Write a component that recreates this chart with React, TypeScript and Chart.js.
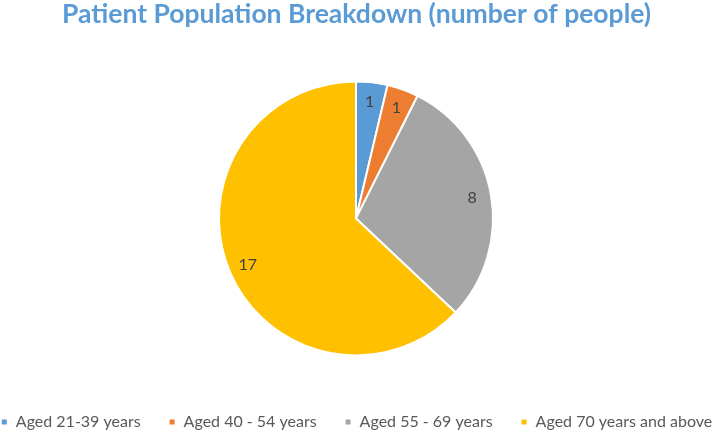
import React, { useEffect, useRef } from "react";
import { Chart, registerables } from "chart.js";

Chart.register(...registerables);

const categories = [
  "Aged 21-39 years",
  "Aged 40 - 54 years",
  "Aged 55 - 69 years",
  "Aged 70 years and above",
];
const values = [1, 1, 8, 17];
const colors = ["#5B9BD5", "#ED7D31", "#A5A5A5", "#FFC000"];
const titleText = "Patient Population Breakdown (number of people)";

const sliceLabels = {
  id: "sliceLabels",
  afterDatasetsDraw(chart: any) {
    const ctx = chart.ctx;
    const meta = chart.getDatasetMeta(0);
    ctx.save();
    ctx.fillStyle = "#404040";
    ctx.font = "16px Lato";
    ctx.textAlign = "center";
    ctx.textBaseline = "middle";
    meta.data.forEach((el: any, i: number) => {
      const p = el.getProps(["x", "y", "startAngle", "endAngle", "outerRadius"], true);
      const mid = (p.startAngle + p.endAngle) / 2;
      const r = p.outerRadius * 0.86;
      ctx.fillText(String(values[i]), p.x + Math.cos(mid) * r, p.y + Math.sin(mid) * r);
    });
    ctx.restore();
  },
};

const shiftArea = {
  id: "shiftArea",
  afterLayout(chart: any) {
    const a = chart.chartArea;
    a.left -= 3.5;
    a.right -= 3.5;
  },
};

export default function App() {
  const ref = useRef<HTMLCanvasElement>(null);
  useEffect(() => {
    document.body.style.margin = "0";
    if (!ref.current) return;
    const chart = new Chart(ref.current, {
      type: "pie",
      data: {
        labels: categories,
        datasets: [
          {
            data: values,
            backgroundColor: colors,
            borderColor: "#FFFFFF",
            borderWidth: 2,
            radius: 137,
          } as any,
        ],
      },
      options: {
        responsive: false,
        animation: false,
        devicePixelRatio: 1,
        layout: { padding: { bottom: -6, left: -33, right: -27, top: 0 } },
        plugins: {
          title: {
            display: true,
            text: titleText,
            color: "#5B9BD5",
            font: { family: "Lato", size: 26.5, weight: "bold" },
            padding: { top: -1, bottom: 20 },
          },
          legend: {
            position: "bottom",
            labels: {
              boxWidth: 7,
              boxHeight: 7,
              padding: 28,
              color: "#595959",
              font: { family: "Lato", size: 16 },
            },
          },
          tooltip: { enabled: false },
        },
      },
      plugins: [shiftArea, sliceLabels],
    });
    return () => chart.destroy();
  }, []);
  return (
    <div style={{ width: 719, height: 434 }}>
      <canvas ref={ref} width={719} height={434} />
    </div>
  );
}
